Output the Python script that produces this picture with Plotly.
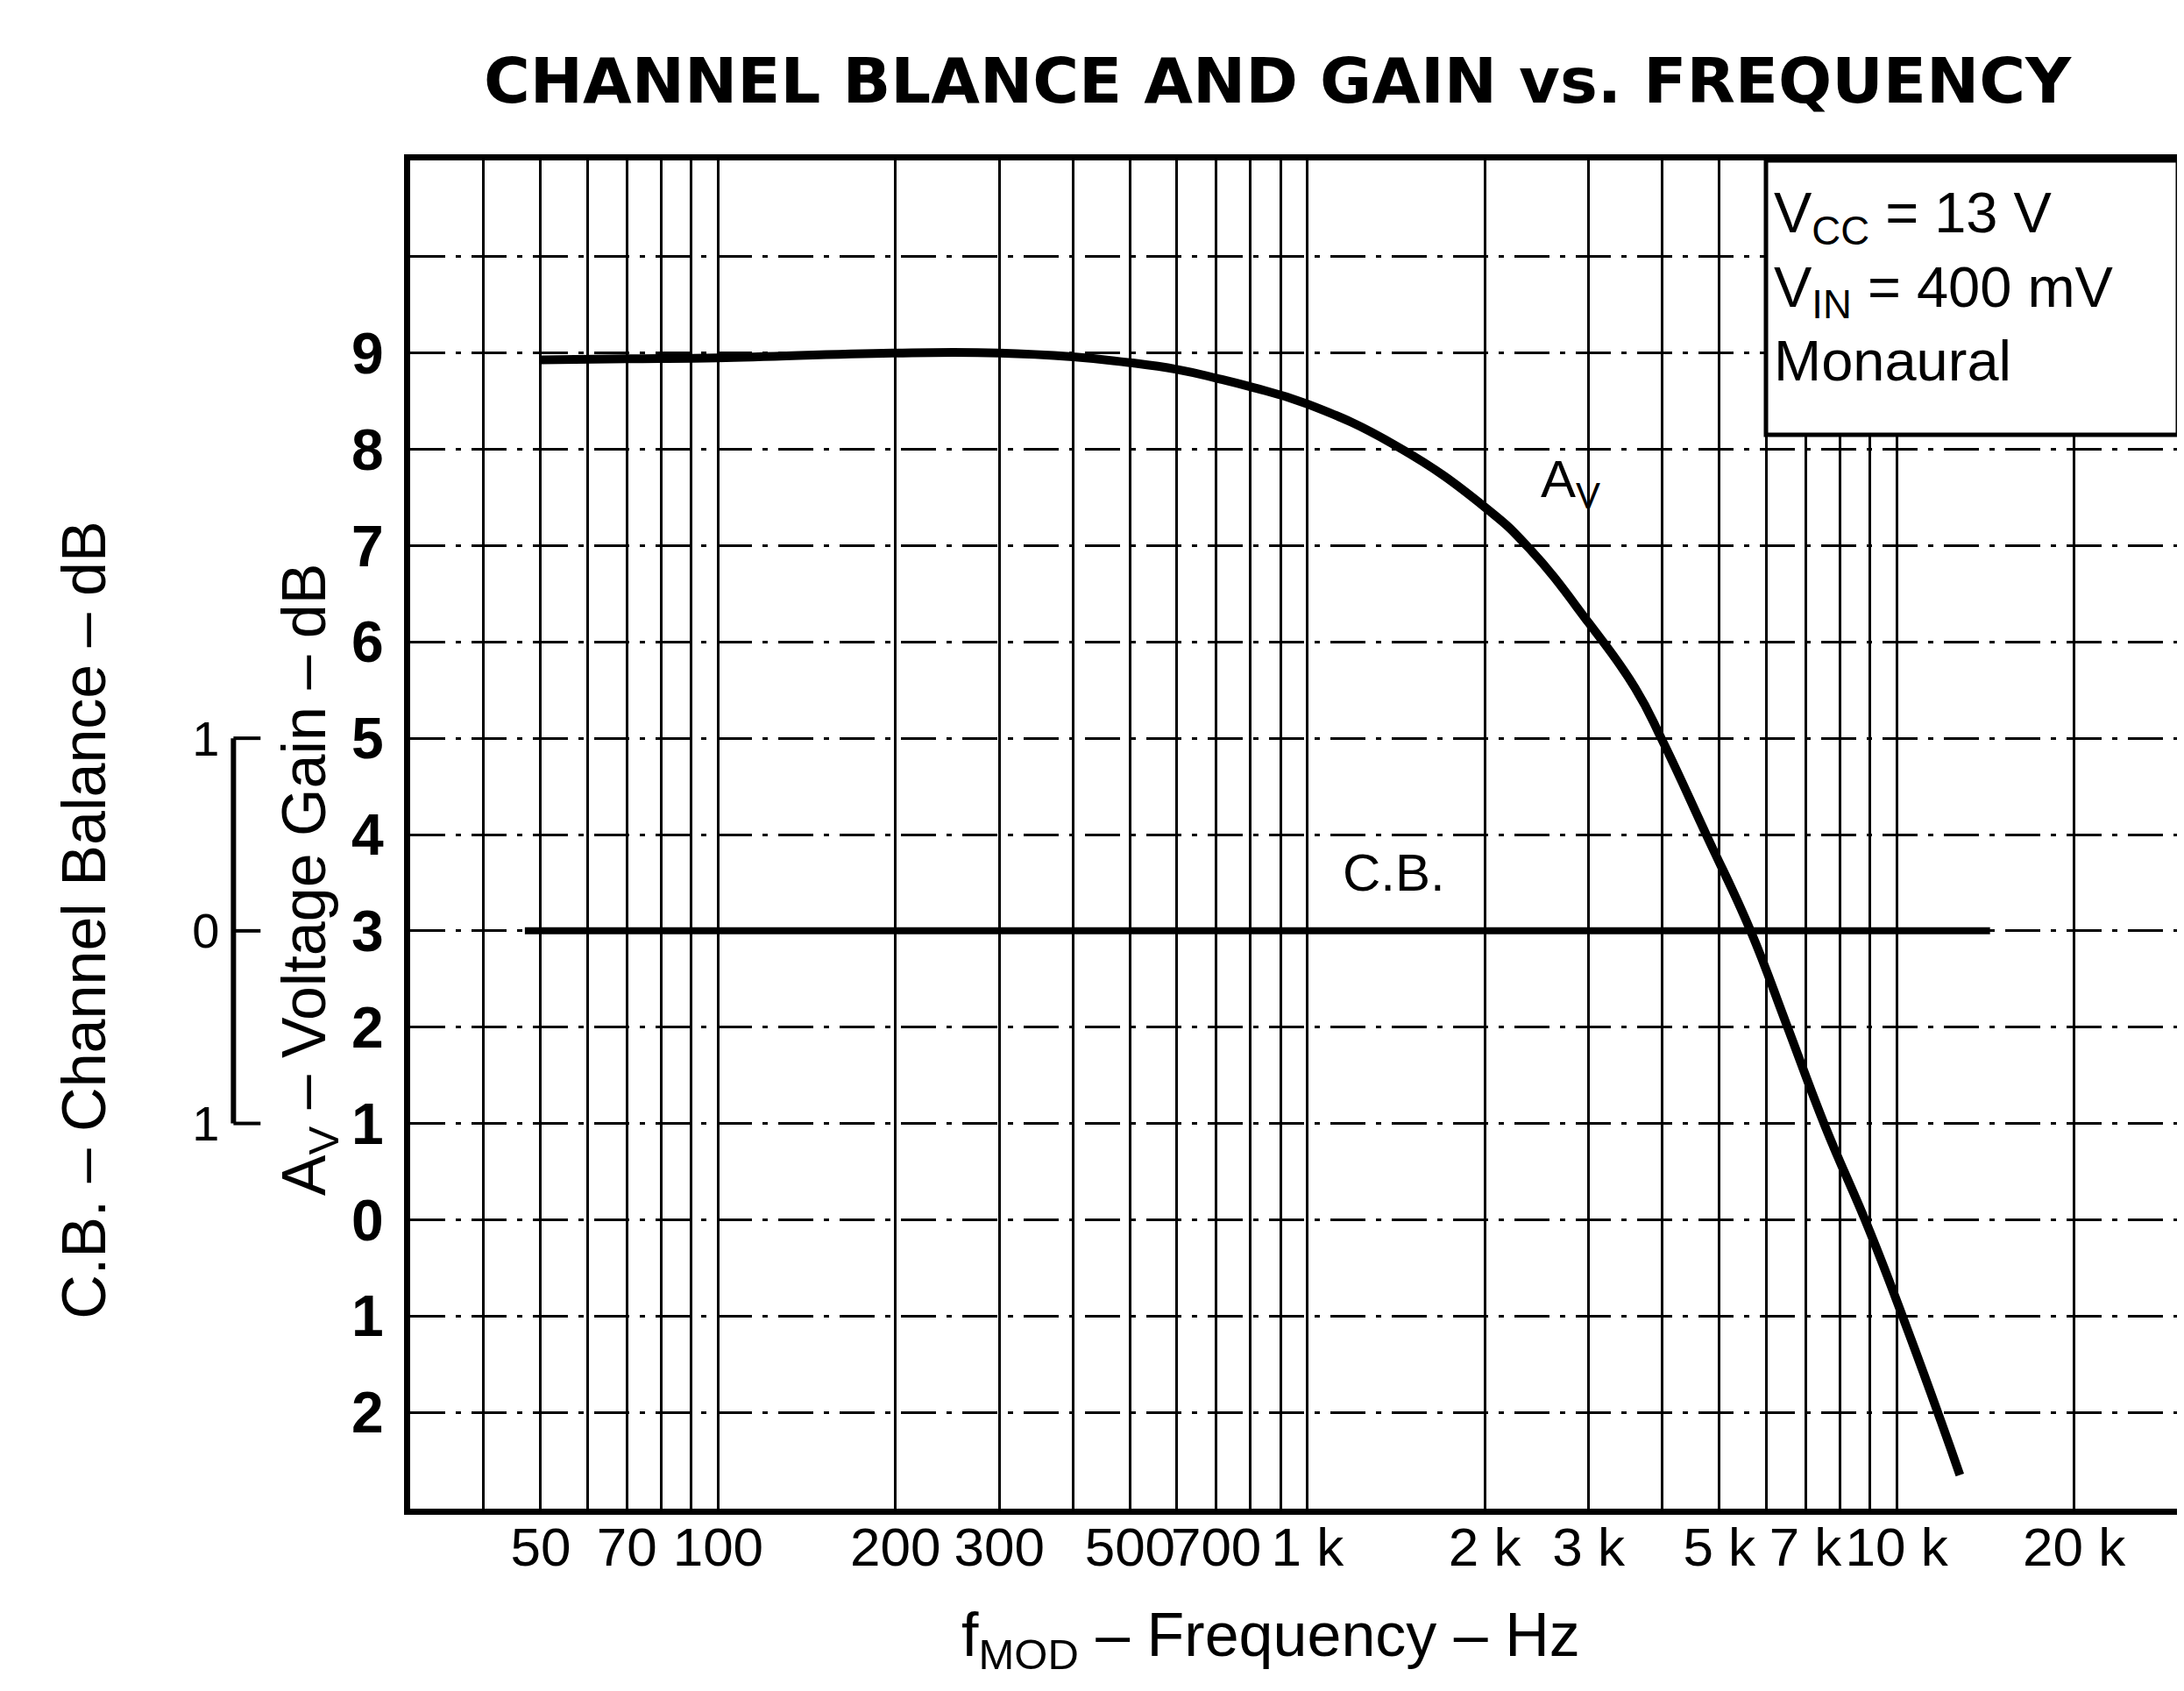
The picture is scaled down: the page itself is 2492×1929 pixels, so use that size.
import math
import plotly.graph_objects as go

# ---------------- data ----------------
# Voltage gain curve A_V (frequency in Hz, gain in dB)
freq_av = [50, 70, 100, 200, 300, 400, 500, 600, 700, 800, 1000, 1420,
           2000, 2380, 3000, 3600, 4000, 4750, 5650, 6500, 7550, 9000, 10400, 11900, 12800]
gain_av = [8.93, 8.94, 8.95, 9.0, 9.0, 8.96, 8.9, 8.83, 8.74, 8.65, 8.47, 8.03,
           7.40, 6.97, 6.2, 5.52, 4.98, 4.0, 3.0, 2.03, 0.98, -0.12, -1.12, -2.1, -2.65]

# Channel balance curve C.B. (frequency in Hz, balance in dB)
freq_cb = [47, 100, 1000, 10000, 14400]
cb_vals = [0.0, 0.0, 0.0, 0.0, 0.0]

# x grid / tick labels
grid_freqs = [40, 50, 60, 70, 80, 90, 100, 200, 300, 400, 500, 600, 700, 800, 900,
              1000, 2000, 3000, 4000, 5000, 6000, 7000, 8000, 9000, 10000, 20000]
grid_freq_labels = ["", "50", "", "70", "", "", "100", "200", "300", "", "500", "", "700", "", "",
                    "1 k", "2 k", "3 k", "", "5 k", "", "7 k", "", "", "10 k", "20 k"]

# y ticks (voltage gain)
gain_ticks = [10, 9, 8, 7, 6, 5, 4, 3, 2, 1, 0, -1, -2]
gain_tick_labels = ["", "9", "8", "7", "6", "5", "4", "3", "2", "1", "0", "1", "2"]

# channel-balance scale
cb_ticks = [1, 0, -1]
cb_tick_labels = ["1", "0", "1"]

# ---------------- layout geometry ----------------
W, H = 2492, 1929
ML, MR, MT, MB = 40, 8, 175, 216
PW = W - ML - MR
X0 = (461 - ML) / PW          # x-domain start (paper)

def px(xf):                      # full-image x -> paper x
    return (xf - ML) / PW

def py(yf):                      # full-image y -> paper y
    return (H - MB - yf) / (H - MT - MB)

FONT = "Liberation Sans, Arial, Helvetica, sans-serif"

fig = go.Figure()

fig.add_trace(go.Scatter(
    x=freq_av, y=gain_av, mode="lines",
    line=dict(color="black", width=10, shape="spline", smoothing=1.3),
    showlegend=False, hoverinfo="skip"))

fig.add_trace(go.Scatter(
    x=freq_cb, y=cb_vals, mode="lines", yaxis="y2",
    line=dict(color="black", width=8),
    showlegend=False, hoverinfo="skip"))

fig.update_layout(
    width=W, height=H,
    margin=dict(l=ML, r=MR, t=MT, b=MB),
    paper_bgcolor="white", plot_bgcolor="white",
    xaxis=dict(
        type="log", range=[math.log10(30), math.log10(30000)], domain=[X0, 1],
        tickmode="array", tickvals=grid_freqs, ticktext=grid_freq_labels,
        tickangle=0,
        showgrid=True, gridcolor="black", gridwidth=3,
        showline=True, linecolor="black", linewidth=7, mirror=True,
        ticks="", ticklabelstandoff=-16, zeroline=False,
        tickfont=dict(family=FONT, size=62, color="black"),
    ),
    yaxis=dict(
        range=[-3, 11], tickmode="array", tickvals=gain_ticks, ticktext=gain_tick_labels,
        showgrid=True, gridcolor="black", gridwidth=3, griddash="40px,12px,6px,12px",
        showline=True, linecolor="black", linewidth=7, mirror=True,
        ticks="", ticklabelstandoff=10, zeroline=False,
        tickfont=dict(family=FONT, size=66, color="black", weight="bold"),
    ),
    yaxis2=dict(
        overlaying="y", anchor="free", position=px(259), side="left",
        range=[(-3 - 3) / 2, (11 - 3) / 2],
        tickmode="array", tickvals=cb_ticks, ticktext=cb_tick_labels,
        showgrid=False, zeroline=False, showline=False, ticks="",
        ticklabelstandoff=16,
        tickfont=dict(family=FONT, size=56, color="black"),
    ),
)

# channel-balance bracket
shapes = [dict(type="line", xref="paper", yref="y2", x0=px(259), x1=px(259),
               y0=min(cb_ticks), y1=max(cb_ticks), line=dict(color="black", width=6))]
for v in cb_ticks:
    shapes.append(dict(type="line", xref="paper", yref="y2", x0=px(259), x1=px(290),
                       y0=v, y1=v, line=dict(color="black", width=4)))
# conditions box
shapes.append(dict(type="rect", xref="x", yref="y", x0=6000, x1=30000, y0=8.15, y1=11,
                   fillcolor="white", line=dict(color="black", width=5), layer="above"))
fig.update_layout(shapes=shapes)

ann = []
ann.append(dict(text="CHANNEL BLANCE AND GAIN vs. FREQUENCY", xref="paper", yref="paper",
                x=px(1454), y=py(84), xanchor="center", yanchor="middle", showarrow=False,
                font=dict(family="DejaVu Sans, sans-serif", size=72, color="black",
                          weight="bold")))
ann.append(dict(text="f<sub>MOD</sub> – Frequency – Hz", xref="paper", yref="paper",
                x=px(1446), y=py(1862), xanchor="center", yanchor="middle", showarrow=False,
                font=dict(family=FONT, size=70, color="black")))
ann.append(dict(text="A<sub>V</sub> – Voltage Gain – dB", xref="paper", yref="paper",
                x=px(345), y=py(995), xanchor="center", yanchor="middle",
                textangle=-90, showarrow=False,
                font=dict(family=FONT, size=70, color="black")))
ann.append(dict(text="C.B. – Channel Balance – dB", xref="paper", yref="paper",
                x=px(88), y=py(1041), xanchor="center", yanchor="middle",
                textangle=-90, showarrow=False,
                font=dict(family=FONT, size=70, color="black")))
ann.append(dict(text="A<sub>V</sub>", xref="x", yref="y",
                x=math.log10(2800), y=7.65, showarrow=False,
                font=dict(family=FONT, size=60, color="black")))
ann.append(dict(text="C.B.", xref="x", yref="y",
                x=math.log10(1400), y=3.6, showarrow=False,
                font=dict(family=FONT, size=60, color="black")))
ann.append(dict(text="V<sub>CC</sub> = 13 V<br>V<sub>IN</sub> = 400 mV<br>Monaural",
                xref="paper", yref="paper", x=px(2020), y=py(196),
                xanchor="left", yanchor="top", align="left", showarrow=False,
                font=dict(family=FONT, size=65, color="black")))
fig.update_layout(annotations=ann)

fig.write_html("out.html")
